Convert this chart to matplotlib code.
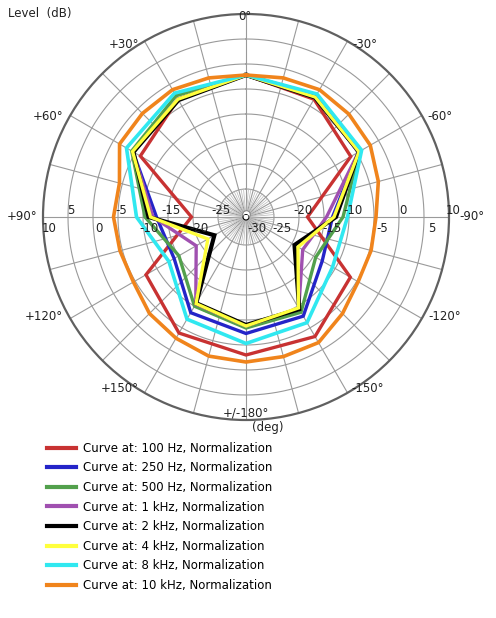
import numpy as np
import matplotlib
matplotlib.use("Agg")
import matplotlib.pyplot as plt

W, H = 496, 618
ang30 = [0, 30, 60, 90, 120, 150, 180, -150, -120, -90, -60, -30, 0]
ang15 = [0, 15, 30, 45, 60, 75, 90, 105, 120, 135, 150, 165, 180,
         -165, -150, -135, -120, -105, -90, -75, -60, -45, -30, -15, 0]

red = [-2.2, -3.4, -6.2, -19.7, -7.5, -3.8, -3.0, -3.0, -6.5, -18.3, -6.4, -3.4, -2.2]
blue = [-2.2, -3.5, -4.5, -12.7, -14.0, -8.5, -7.3, -7.7, -13.0, -13.3, -4.6, -3.0, -2.2]
green = [-2.2, -2.6, -4.2, -10.4, -15.1, -10.0, -8.4, -8.6, -14.5, -11.2, -4.4, -2.4, -2.2]
purple = [-2.2, -3.4, -4.5, -12.0, -19.1, -10.5, -8.8, -9.5, -17.5, -14.5, -4.6, -3.0, -2.2]
black = [-2.2, -3.6, -4.6, -11.1, -23.3, -10.7, -9.0, -9.3, -19.4, -12.6, -4.5, -3.0, -2.2]
yellow = [-2.2, -3.4, -4.4, -11.5, -21.8, -10.6, -8.8, -9.6, -18.6, -13.0, -4.5, -2.9, -2.2]
cyan = [-2.2, -2.0, -3.0, -8.7, -12.8, -7.0, -5.3, -6.2, -10.6, -10.3, -3.9, -2.2, -2.2]
orange = [-2.2, -1.8, -1.2, -1.3, -1.4, -4.4, -4.1, -4.5, -4.6, -3.3, -2.6, -1.8, -1.6,
          -1.7, -1.6, -3.3, -4.7, -4.7, -4.6, -3.2, -1.9, -1.5, -1.2, -1.8, -2.2]

labels = ["Curve at: 100 Hz, Normalization", "Curve at: 250 Hz, Normalization",
          "Curve at: 500 Hz, Normalization", "Curve at: 1 kHz, Normalization",
          "Curve at: 2 kHz, Normalization", "Curve at: 4 kHz, Normalization",
          "Curve at: 8 kHz, Normalization", "Curve at: 10 kHz, Normalization"]
series = [(ang30, red, "#c83232", 2.4), (ang30, blue, "#2424c8", 2.4),
          (ang30, green, "#52a04c", 2.4), (ang30, purple, "#a050b0", 2.4),
          (ang30, black, "#000000", 3.0), (ang30, yellow, "#ffff3c", 2.4),
          (ang30, cyan, "#30e8f0", 2.6), (ang15, orange, "#f0841c", 2.6)]

ring_vals = [-25, -20, -15, -10, -5, 0, 5]
angle_texts = ["0°", "+30°", "+60°", "+90°", "+120°", "+150°", "+/-180°",
               "-150°", "-120°", "-90°", "-60°", "-30°"]
angle_label_px = [(245, 17), (124, 45), (48, 117), (22, 217), (44, 317), (120, 388),
                  (246, 413), (368, 388), (445, 317), (472, 217), (440, 117), (365, 45)]

fig = plt.figure(figsize=(W/100, H/100), dpi=100)
cx, cy, R = 246, 217, 203
ax = fig.add_axes([(cx-R)/W, 1-(cy+R)/H, 2*R/W, 2*R/H], projection="polar")
ax.set_theta_zero_location("N")
ax.set_theta_direction(1)
ax.set_ylim(-30, 10)
ax.set_rorigin(-30.6)
ax.set_xticks([]); ax.set_yticks([])
ax.grid(False)
ax.spines["polar"].set_color("#606060")
ax.spines["polar"].set_linewidth(1.6)

gc = "#9a9a9a"
th = np.linspace(0, 2*np.pi, 361)
for v in [-30] + ring_vals:
    ax.plot(th, np.full_like(th, v), color=gc, lw=0.8, zorder=1)
for a in range(0, 360, 15):
    ax.plot([np.deg2rad(a)]*2, [-30, 10], color=gc, lw=0.8, zorder=1)
for a in range(0, 360, 5):
    if a % 15:
        ax.plot([np.deg2rad(a)]*2, [-30, -25], color="#b8b8b8", lw=0.5, zorder=1)

handles = []
for (ang, vals, col, lw), lab in zip(series, labels):
    h, = ax.plot(np.deg2rad(ang), vals, color=col, lw=lw, label=lab, zorder=3,
                 solid_joinstyle="miter")
    handles.append(h)
ax.scatter([0], [-30], s=30, color="white", edgecolor="#888", lw=0.8, zorder=4)

def px(x, y):
    return x/W, 1-y/H

fs = 8.5
def rpx(v):
    return 3 + 5*(v+30)
for v in [5, -5, -15, -25]:
    fig.text(*px(cx - rpx(v) + 3, 210), str(v), fontsize=fs, ha="center", va="center", color="#222")
for v in [10, 0, -10, -20]:
    fig.text(*px(cx - rpx(v) + 6, 228), str(v), fontsize=fs, ha="center", va="center", color="#222")
for v in [-20, -10, 0, 10]:
    fig.text(*px(cx + rpx(v) + 4, 210), str(v), fontsize=fs, ha="center", va="center", color="#222")
for v in [-30, -25, -15, -5, 5]:
    fig.text(*px(cx + rpx(v) + 8, 228), str(v), fontsize=fs, ha="center", va="center", color="#222")

for (x, y), t in zip(angle_label_px, angle_texts):
    fig.text(*px(x, y), t, fontsize=fs, ha="center", va="center", color="#222")

fig.text(*px(8, 14), "Level  (dB)", fontsize=fs, ha="left", va="center", color="#222")
fig.text(*px(268, 427), "(deg)", fontsize=fs, ha="center", va="center", color="#222")

leg = fig.legend(handles=handles, loc="upper left", bbox_to_anchor=px(42, 437),
                 frameon=False, fontsize=fs, handlelength=2.5, handletextpad=0.6,
                 labelspacing=0.56, borderaxespad=0)
for lh in leg.legend_handles:
    lh.set_linewidth(3.0)

fig.savefig("out.png", dpi=100)
